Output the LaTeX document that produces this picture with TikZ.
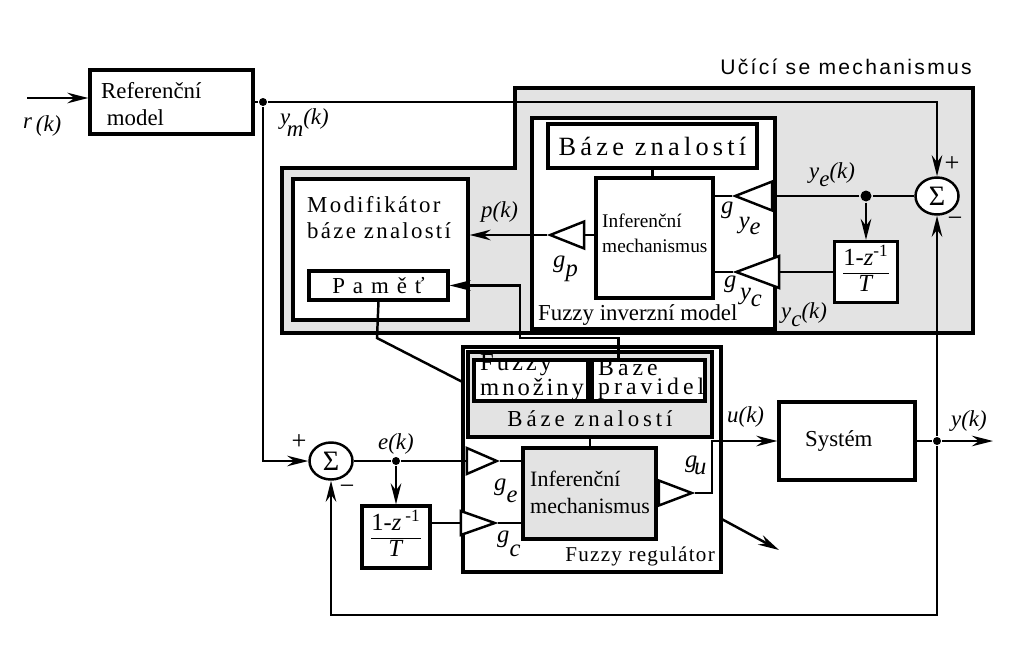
\documentclass[tikz,border=0pt]{standalone}
\usepackage{fontspec}
\setmainfont{Liberation Serif}
\setsansfont{Liberation Sans}
\newfontfamily\lsA[LetterSpace=10]{Liberation Serif}
\newfontfamily\lsB[LetterSpace=16]{Liberation Serif}
\newfontfamily\lsC[LetterSpace=35]{Liberation Serif}
\newfontfamily\lsD[LetterSpace=12]{Liberation Serif}
\newfontfamily\lsE[LetterSpace=17]{Liberation Serif}
\newfontfamily\lsF[LetterSpace=6]{Liberation Serif}
\newfontfamily\lsS[LetterSpace=11]{Liberation Sans}
\usetikzlibrary{arrows.meta, shapes.geometric}
\newdimen\upx \upx=0.02cm
\setlength\arrayrulewidth{0.9pt}

\begin{document}
\begin{tikzpicture}[x=0.02cm, y=-0.02cm, line width=1.4pt,
            > = {Stealth[length=12pt, width=6pt, inset=4pt]},
    box/.style = {draw, line width=1.8pt, fill=white, inner sep=0pt},
graybox/.style = {box, fill=black!11},
    amp/.style = {draw, line width=1.4pt, fill=white, isosceles triangle,
                  isosceles triangle stretches, inner sep=0pt},
    sum/.style = {draw, ellipse, line width=1.4pt, fill=white, inner sep=0pt,
                  minimum width=43\upx, minimum height=37\upx,
                  font=\fontsize{16}{16}\selectfont},
    dot/.style = {circle, fill, inner sep=0pt, minimum size=8\upx},
    txt/.style = {inner sep=0pt, align=left, font=\fontsize{13}{15}\selectfont},
    lbl/.style = {inner sep=0pt, anchor=base west, font=\fontsize{13}{15}\selectfont\itshape},
   glbl/.style = {inner sep=0pt, anchor=base west, font=\fontsize{14}{15}\selectfont\itshape},
    sgn/.style = {inner sep=0pt, font=\fontsize{15}{15}\selectfont},
   frac/.style = {box, font=\fontsize{14}{14}\selectfont}
                        ]
\useasboundingbox (0,0) rectangle (1024,649);
% learning mechanism
\draw[line width=1.8pt, fill=black!11] (515,88) -- (973,88) -- (973,333) -- (282,333)
    -- (282,168) -- (515,168) -- cycle;
\node[anchor=base east, inner sep=0pt, font=\lsS\fontsize{12}{12}\selectfont] (title) at (973,74) {Učící se mechanismus};
% reference model (base anchor = last line)
\coordinate (rin) at (27,98);
\node[box, minimum width=163\upx, minimum height=64\upx] (refm) at (171.5,102) {};
\node[txt, anchor=base west] (refmtxt) at (100,125) {Referenční\\ \ model};
\node[dot] (jm) at (263,102) {};
% modifier and memory
\node[box, minimum width=175\upx, minimum height=141\upx] (modif) at (380.5,249.5) {};
\node[txt, anchor=base west, font=\lsA\fontsize{13}{14.7}\selectfont] (modiftxt) at (306,238) {Modifikátor\\báze znalostí};
\node[box, minimum width=139\upx, minimum height=29\upx, font=\lsC\fontsize{13}{13}\selectfont] (pamet) at (378.5,285.5) {Paměť};
% fuzzy inverse model
\node[box, minimum width=243\upx, minimum height=211\upx] (fim) at (653.5,223.5) {};
\node[txt, anchor=base west] (fimtxt) at (537,320) {Fuzzy inverzní model};
\node[box, minimum width=209\upx, minimum height=44\upx, font=\lsB\fontsize{15}{15}\selectfont] (bzU) at (652.5,146) {Báze znalostí};
\node[box, minimum width=117\upx, minimum height=120\upx] (infU) at (654.5,238) {};
\node[txt, anchor=base west, font=\fontsize{11}{14}\selectfont] (infUtxt) at (601,252) {Inferenční\\mechanismus};
\node[amp, shape border rotate=180, minimum width=29\upx, minimum height=37\upx, anchor=apex] (gye) at (732,196) {};
\node[amp, shape border rotate=180, minimum width=32\upx, minimum height=43\upx, anchor=apex] (gyc) at (733,272) {};
\node[amp, shape border rotate=180, minimum width=27\upx, minimum height=34\upx, anchor=apex] (gp) at (547,235) {};
\node[sum] (sumU) at (937,196) {Σ};
\node[dot, minimum size=11\upx] (jye) at (866,196) {};
\node[frac, minimum width=63\upx, minimum height=61\upx] (dU) at (866,272)
    {\begin{tabular}{@{}c@{}}1-\textit{z}\textsuperscript{-1}\\\hline\textit{T}\end{tabular}};
% fuzzy controller
\node[box, minimum width=258\upx, minimum height=225\upx] (freg) at (592,459.5) {};
\node[graybox, minimum width=244\upx, minimum height=85\upx] (bzL) at (590,394.5) {};
\node[box, minimum width=114\upx, minimum height=41\upx] (fm) at (531,380.5) {};
\node[txt, anchor=base west, font=\lsD\fontsize{14}{9.5}\selectfont] (fmtxt) at (479,395) {Fuzzy\\množiny};
\node[box, minimum width=113\upx, minimum height=41\upx] (bp) at (648.5,380.5) {};
\node[txt, anchor=base west, font=\lsE\fontsize{13.5}{9}\selectfont] (bptxt) at (597,394) {Báze\\pravidel};
\node[txt, anchor=base, font=\lsE\fontsize{13}{13}\selectfont] (bzLtxt) at (590,426) {Báze znalostí};
\node[graybox, minimum width=133\upx, minimum height=91\upx] (infL) at (589.5,493.5) {};
\node[txt, anchor=base west, font=\fontsize{12.5}{15}\selectfont] (infLtxt) at (529,513) {Inferenční\\mechanismus};
\node[txt, anchor=base east, font=\lsF\fontsize{12}{12}\selectfont] (fregtxt) at (716,561) {Fuzzy regulátor};
\node[amp, minimum width=26\upx, minimum height=30\upx, anchor=apex] (ge) at (500,461) {};
\node[amp, minimum width=24\upx, minimum height=34\upx, anchor=apex] (gc) at (498,523) {};
\node[amp, minimum width=25\upx, minimum height=33\upx, anchor=apex] (gu) at (695,493) {};
\node[sum] (sumL) at (331,461) {Σ};
\node[dot] (je) at (396,461) {};
\node[frac, minimum width=68\upx, minimum height=62\upx] (dL) at (396,537)
    {\begin{tabular}{@{}c@{}}1-\textit{z}\,\textsuperscript{-1}\\\hline\textit{T}\end{tabular}};
% plant
\node[box, minimum width=136\upx, minimum height=78\upx] (sys) at (847,441) {};
\node[txt, anchor=base west] (systxt) at (804,446) {Systém};
\node[dot] (jy) at (937,441) {};
\coordinate (yout) at (993,441);
\coordinate (fb) at (937,615);
\coordinate (uk) at (712,441);
\coordinate (kink) at (520,338);
\coordinate (pk) at (377,338);
\coordinate (adapt) at (779,550);
% connections
\draw[->] (rin) -- (rin -| refm.west);
\draw (refm.east) -- (jm);
\draw[->] (jm) -| (sumU.north);
\draw[->] (jm) |- (sumL.west);
\draw (sumU.west) -- (jye) -- (gye.east);
\draw[->] (jye) -- (dU.north);
\draw (dU.west) -- (gyc.east);
\draw (gye.west) -- (gye.west -| infU.east);
\draw (gyc.west) -- (gyc.west -| infU.east);
\draw (infU.west |- gp.east) -- (gp.east);
\draw[->] (gp.west) -- (gp.west -| modif.east);
\draw (bzU.south) -- (bzU.south |- infU.north);
\draw[->] ([xshift=-30\upx]bp.north) |- (kink) |- (pamet.east);
\draw (pamet.south) -- (pk) -- ([yshift=-36\upx]freg.north west);
\draw (sumL.east) -- (je) -- (ge.west);
\draw[->] (je) -- (dL.north);
\draw (dL.east |- gc.west) -- (gc.west);
\draw (ge.east) -- (ge.east -| infL.west);
\draw (gc.east) -- (gc.east -| infL.west);
\draw (infL.east |- gu.west) -- (gu.west);
\draw (bzL.south) -- (bzL.south |- infL.north);
\draw[->] (gu.east) -| (uk) -- (sys.west);
\draw (sys.east) -- (jy);
\draw[->] (jy) -- (yout);
\draw[->] (jy) -- (sumU.south);
\draw[->] (jy) -- (fb) -| (sumL.south);
\draw[->] ([yshift=-60\upx]freg.east) -- (adapt);
% labels
\node[lbl] (lr) at (22,128) {r\,\raisebox{-2pt}{(k)}};
\node[lbl] (lym) at (279,124) {y\kern-2pt\raisebox{-7pt}{m}(k)};
\node[lbl] (lp) at (480,217) {p(k)};
\node[lbl] (lye) at (808,178) {y\raisebox{-5pt}{e}(k)};
\node[lbl] (lyc) at (780,318) {y\raisebox{-5pt}{c}(k)};
\node[lbl] (le) at (377,449) {e(k)};
\node[lbl] (lu) at (726,422) {u(k)};
\node[lbl] (ly) at (950,426) {y(k)};
\node[glbl] (lgye) at (720,213) {g\hspace{3pt}\raisebox{-9pt}{y\raisebox{-3pt}{e}}};
\node[glbl] (lgyc) at (723,287) {g\hspace{2pt}\raisebox{-7pt}{y\raisebox{-4pt}{c}}};
\node[glbl] (lgp) at (552,267) {g\raisebox{-5.5pt}{p}};
\node[glbl] (lge) at (493,490) {g\raisebox{-7pt}{e}};
\node[glbl] (lgc) at (496,542) {g\raisebox{-8pt}{c}};
\node[glbl] (lgu) at (684,467) {g\kern-2pt\raisebox{-4.5pt}{u}};
\node[sgn] (pU) at (952,164) {+};
\node[sgn] (mU) at (955,222) {−};
\node[sgn] (pL) at (299,442) {+};
\node[sgn] (mL) at (347,490) {−};
\end{tikzpicture}
\end{document}
